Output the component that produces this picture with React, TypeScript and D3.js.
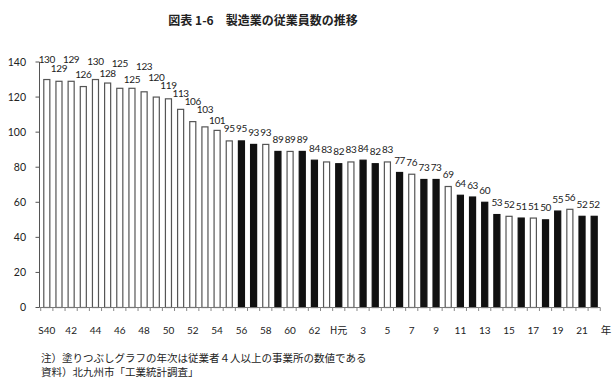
import React from "react";
import * as d3 from "d3";

const title = "図表 1-6　製造業の従業員数の推移";
const note1 = "注）塗りつぶしグラフの年次は従業者４人以上の事業所の数値である";
const note2 = "資料）北九州市「工業統計調査」";

const categories = [
  "S40","S41","S42","S43","S44","S45","S46","S47","S48","S49","S50","S51",
  "S52","S53","S54","S55","S56","S57","S58","S59","S60","S61","S62","S63",
  "H1","H2","H3","H4","H5","H6","H7","H8","H9","H10","H11","H12","H13","H14",
  "H15","H16","H17","H18","H19","H20","H21","H22",
];

const employees = [
  130,129,129,126,130,128,125,125,123,120,119,113,
  106,103,101,95,95,93,93,89,89,89,84,83,
  82,83,84,82,83,77,76,73,73,69,64,63,60,53,
  52,51,51,50,55,56,52,52,
];

// 1 = establishments with 4+ employees (filled bar)
const fourPlusOnly = [
  0,0,0,0,0,0,0,0,0,0,0,0,
  0,0,0,0,1,1,0,1,0,1,1,0,
  1,0,1,1,0,1,0,1,1,0,1,1,1,1,
  0,1,0,1,1,0,1,1,
];

const xTickLabels = [
  "S40","42","44","46","48","50","52","54","56","58","60","62",
  "H元","3","5","7","9","11","13","15","17","19","21",
];
const xTickCats = [
  "S40","S42","S44","S46","S48","S50","S52","S54","S56","S58","S60","S62",
  "H1","H3","H5","H7","H9","H11","H13","H15","H17","H19","H21",
];
const yTicks = [0, 20, 40, 60, 80, 100, 120, 140];

// layout only: extra lift of value labels (px) to stagger crowded labels
const labelLift = [8,1,10,0,6,-2,13,-3,13,8,1,4,8,5,-2];

const W = 616;
const H = 380;
const numFont = "Lato, 'Open Sans', sans-serif";
const jpFont = "'Noto Sans CJK JP', sans-serif";

export default function App() {
  const x = d3
    .scaleBand<string>()
    .domain(categories)
    .range([40, 601])
    .paddingInner(0.42)
    .paddingOuter(0.27);
  const y = d3.scaleLinear().domain([0, 140]).range([307.5, 62]);
  const step = x.step();
  const bw = x.bandwidth();
  const gap = step - bw;

  const boundaries = categories.map((c) => (x(c) as number) - gap / 2);
  boundaries.push((x(categories[categories.length - 1]) as number) + bw + gap / 2);

  return (
    <svg
      width={W}
      height={H}
      style={{ position: "absolute", left: 0, top: 0, background: "#fff" }}
    >
      <rect x={0} y={0} width={W} height={H} fill="#fff" />
      <text
        x={263}
        y={25}
        textAnchor="middle"
        fontFamily={jpFont}
        fontSize={12}
        fontWeight={700}
        fill="#222"
      >
        {title}
      </text>

      {/* y axis */}
      <line x1={39.5} x2={39.5} y1={y(140)} y2={y(0)} stroke="#555" strokeWidth={1} />
      {yTicks.map((t) => (
        <g key={t}>
          <line x1={35.5} x2={39.5} y1={y(t)} y2={y(t)} stroke="#555" />
          <text
            x={26}
            y={y(t) + 3.5}
            textAnchor="end"
            fontFamily={numFont}
            fontSize={10.5}
            fill="#222"
          >
            {t}
          </text>
        </g>
      ))}

      {/* bars */}
      {categories.map((c, i) => {
        const v = employees[i];
        const filled = fourPlusOnly[i] === 1;
        const x0 = x(c) as number;
        return (
          <rect
            key={c}
            x={x0 + 0.5}
            y={y(v)}
            width={bw - 1}
            height={y(0) - y(v)}
            fill={filled ? "#111" : "#fff"}
            stroke={filled ? "#111" : "#555"}
            strokeWidth={1.2}
          />
        );
      })}

      {/* x axis */}
      <line x1={39.5} x2={boundaries[boundaries.length - 1]} y1={307.5} y2={307.5} stroke="#777" />
      {boundaries.map((b, i) => (
        <line key={i} x1={b} x2={b} y1={307.5} y2={311} stroke="#888" />
      ))}

      {/* value labels */}
      {categories.map((c, i) => {
        const v = employees[i];
        const cx = (x(c) as number) + bw / 2;
        const lift = i < labelLift.length ? labelLift[i] : 0;
        return (
          <text
            key={c}
            x={cx}
            y={y(v) - 8.5 - lift}
            textAnchor="middle"
            fontFamily={numFont}
            fontSize={10}
            letterSpacing={-0.4}
            fill="#222"
          >
            {v}
          </text>
        );
      })}

      {/* x tick labels */}
      {xTickCats.map((c, i) => (
        <text
          key={c}
          x={(x(c) as number) + bw / 2}
          y={334}
          textAnchor="middle"
          fontFamily={i === 12 ? jpFont : numFont}
          fontSize={10}
          fill="#222"
        >
          {xTickLabels[i]}
        </text>
      ))}
      <text x={606} y={334} textAnchor="middle" fontFamily={jpFont} fontSize={10.5} fill="#222">
        年
      </text>

      <text x={41} y={362} fontFamily={jpFont} fontSize={10.5} fill="#222">
        {note1}
      </text>
      <text x={41} y={376} fontFamily={jpFont} fontSize={10.5} fill="#222">
        {note2}
      </text>
    </svg>
  );
}
